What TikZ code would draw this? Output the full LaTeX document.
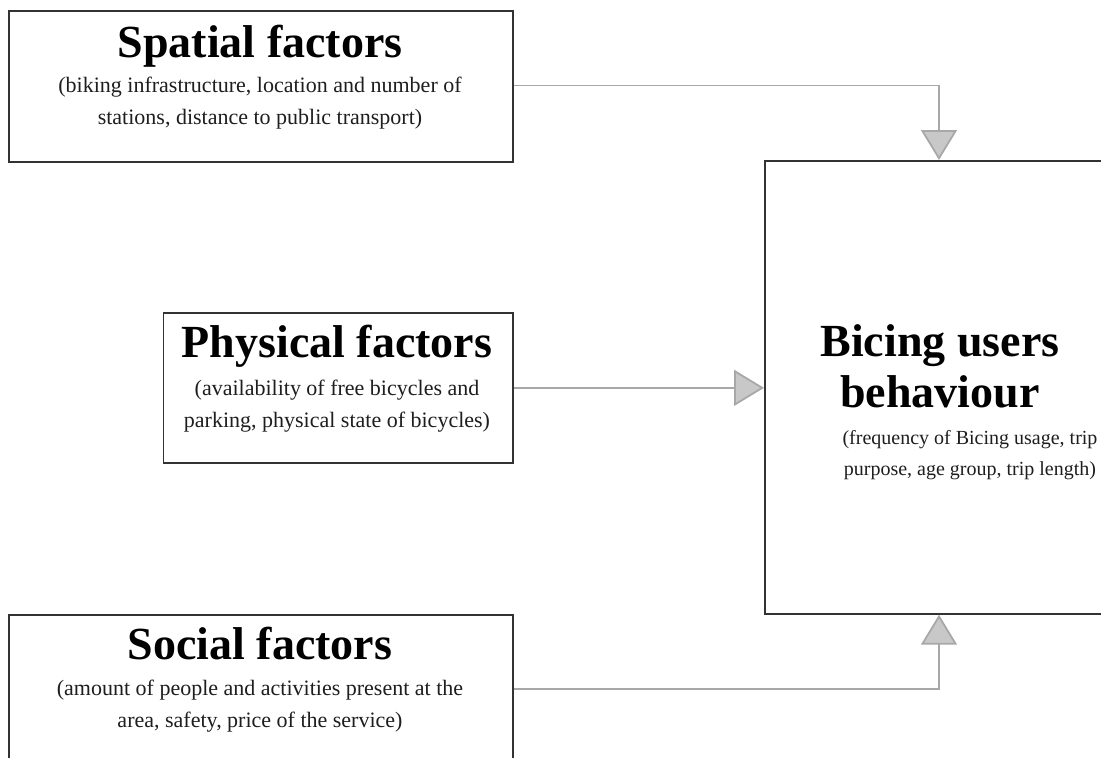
\documentclass[tikz,border=0pt]{standalone}
\usepackage{fontspec}
\setmainfont{Liberation Serif}
\usetikzlibrary{arrows.meta}
\definecolor{boxline}{HTML}{333333}
\definecolor{connline}{HTML}{A8A8A8}
\definecolor{tipfill}{HTML}{C8C8C8}
\definecolor{subtext}{HTML}{1E1E1E}
\tikzset{
  factorbox/.style={draw=boxline, line width=1.7pt, fill=none, rectangle, inner sep=0pt, anchor=north west},
  titletext/.style={font=\fontsize{46}{51}\selectfont\bfseries, text=black, align=center, anchor=base, inner sep=0pt},
  subtitletext/.style={font=\fontsize{22}{32}\selectfont, text=subtext, align=center, anchor=base, inner sep=0pt},
  conn/.style={draw=connline, line width=1.8pt, -{Triangle[width=36pt,length=30pt,fill=tipfill]}},
}
\begin{document}
\begin{tikzpicture}[x=1pt,y=-1pt]
\useasboundingbox (0,0) rectangle (1101,758);
\clip (0,0) rectangle (1101,758);
\fill[white] (0,0) rectangle (1101,758);

% boxes
\node[factorbox, minimum width=504pt, minimum height=151pt] (spatial) at (8,10) {};
\node[factorbox, minimum width=349.5pt, minimum height=150pt] (phys) at (162.5,312) {};
\node[factorbox, minimum width=504pt, minimum height=190pt] (social) at (8,614) {};
\node[factorbox, minimum width=360pt, minimum height=453pt] (bicing) at (764,160) {};

% texts (base anchor = baseline of the last line)
\node[titletext] (spatialT) at (260,57) {Spatial factors};
\node[subtitletext] (spatialS) at (260,124) {(biking infrastructure, location and number of\\stations, distance to public transport)};
\node[titletext] (physT) at (337,357) {Physical factors};
\node[subtitletext] (physS) at (337,427) {(availability of free bicycles and\\parking, physical state of bicycles)};
\node[titletext] (socialT) at (260,659) {Social factors};
\node[subtitletext] (socialS) at (260,727) {(amount of people and activities present at the\\area, safety, price of the service)};
\node[titletext] (bicingT) at (940,407) {Bicing users\\behaviour};
\node[subtitletext, font=\fontsize{20}{31}\selectfont] (bicingS) at (970,475) {(frequency of Bicing usage, trip\\purpose, age group, trip length)};

% connectors
\coordinate (spTurn) at (939,85.5);
\coordinate (soTurn) at (939,689);
\draw[conn] (spatial.east |- spTurn) -- (spTurn) -- (spTurn |- bicing.north);
\draw[conn] (phys.east) -- (bicing.west |- phys.east);
\draw[conn] (social.east |- soTurn) -- (soTurn) -- (soTurn |- bicing.south);
\end{tikzpicture}
\end{document}
